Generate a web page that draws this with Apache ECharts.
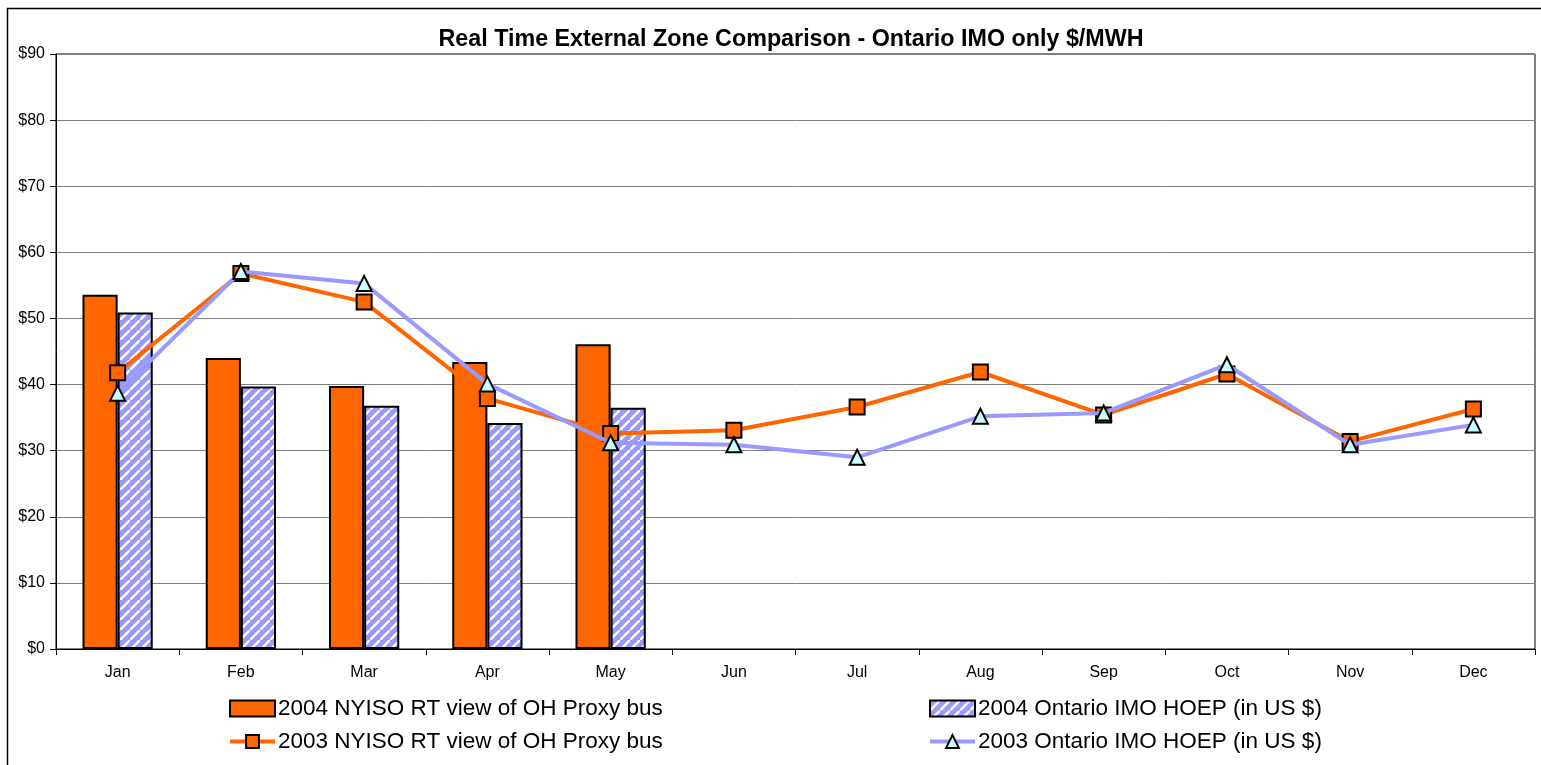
<!DOCTYPE html>
<html>
<head>
<meta charset="utf-8">
<script src="https://cdn.jsdelivr.net/npm/echarts@6/dist/echarts.min.js"></script>
<style>
html,body{margin:0;padding:0;background:#fff;}
#c{width:1541px;height:765px;}
</style>
</head>
<body>
<div id="c"></div>
<script>
var months = ['Jan','Feb','Mar','Apr','May','Jun','Jul','Aug','Sep','Oct','Nov','Dec'];
var nyiso2004 = [53.6, 44.0, 39.8, 43.4, 46.1, null, null, null, null, null, null, null];
var ontario2004 = [50.9, 39.7, 36.8, 34.2, 36.5, null, null, null, null, null, null, null];
var nyiso2003 = [41.8, 56.8, 52.5, 37.9, 32.6, 33.1, 36.6, 41.9, 35.4, 41.6, 31.4, 36.3];
var ontario2003 = [38.7, 57.1, 55.3, 40.1, 31.2, 30.9, 29.0, 35.2, 35.7, 43.0, 30.9, 33.9];
var names = ['2004 NYISO RT view of OH Proxy bus','2004 Ontario IMO HOEP (in US $)','2003 NYISO RT view of OH Proxy bus','2003 Ontario IMO HOEP (in US $)'];

function hatch(){
  var s = 10;
  var c = document.createElement('canvas');
  c.width = s; c.height = s;
  var g = c.getContext('2d');
  g.fillStyle = '#9999FF';
  g.fillRect(0,0,s,s);
  g.strokeStyle = '#FFFFFF';
  g.lineWidth = 2.4;
  g.beginPath();
  g.moveTo(-2,s+2); g.lineTo(s+2,-2);
  g.moveTo(-s-2,2); g.lineTo(2,-s-2);
  g.moveTo(s-2,2*s+2); g.lineTo(2*s+2,s-2);
  g.stroke();
  return {image: c, repeat: 'repeat'};
}
var pat = hatch();

var chart = echarts.init(document.getElementById('c'));
var font = 'Liberation Sans, Arial, sans-serif';
var legText = {fontFamily: font, fontSize: 22.5, color: '#000', padding: [0,0,0,-2]};
chart.setOption({
  animation: false,
  textStyle: {fontFamily: font},
  title: {
    text: 'Real Time External Zone Comparison - Ontario IMO only $/MWH',
    left: 786, top: 23, textAlign: 'center',
    textStyle: {fontFamily: font, fontSize: 23.3, fontWeight: 'bold', color: '#000'}
  },
  graphic: [{
    type: 'rect', left: 5, top: 6, z: -1,
    shape: {width: 1560, height: 800},
    style: {fill: 'none', stroke: '#000', lineWidth: 1.5}
  }],
  legend: [{
    data: [{name: names[0], icon: 'rect'}, {name: names[2], lineStyle: {width: 4}}],
    orient: 'vertical', left: 228, top: 697, itemGap: 10, padding: 0,
    itemWidth: 45, itemHeight: 16,
    textStyle: legText
  },{
    data: [{name: names[1], icon: 'rect'}, {name: names[3], lineStyle: {width: 4}}],
    orient: 'vertical', left: 928, top: 697, itemGap: 10, padding: 0,
    itemWidth: 45, itemHeight: 16,
    textStyle: legText
  }],
  grid: {left: 56, right: 6, top: 54, bottom: 116, show: true, borderColor: '#000', borderWidth: 1},
  xAxis: {
    type: 'category', data: months, boundaryGap: true,
    axisLine: {lineStyle: {color: '#000', width: 1}},
    axisTick: {show: true, length: 6, lineStyle: {color: '#000'}},
    axisLabel: {color: '#000', fontSize: 16, margin: 16, fontFamily: font}
  },
  yAxis: {
    type: 'value', min: 0, max: 90, interval: 10,
    axisLine: {show: true, lineStyle: {color: '#000', width: 1}},
    axisTick: {show: true, length: 6, lineStyle: {color: '#000'}},
    axisLabel: {color: '#000', fontSize: 16, margin: 11, fontFamily: font, formatter: function(v){return '$' + v;}},
    splitLine: {lineStyle: {color: '#808080', width: 1}}
  },
  series: [{
    name: names[0], type: 'bar', data: nyiso2004,
    barGap: '0%', barCategoryGap: '43%',
    itemStyle: {color: '#FF6600', borderColor: '#000', borderWidth: 2}
  },{
    name: names[1], type: 'bar', data: ontario2004,
    barGap: '0%', barCategoryGap: '43%',
    itemStyle: {color: pat, borderColor: '#000', borderWidth: 2}
  },{
    name: names[2], type: 'line', data: nyiso2003, z: 5,
    symbol: 'rect', symbolSize: 15,
    lineStyle: {color: '#FF6600', width: 4},
    itemStyle: {color: '#FF6600', borderColor: '#000', borderWidth: 2}
  },{
    name: names[3], type: 'line', data: ontario2003, z: 6,
    symbol: 'triangle', symbolSize: 15,
    lineStyle: {color: '#9999FF', width: 4},
    itemStyle: {color: '#CCFFFF', borderColor: '#000', borderWidth: 2}
  }]
});
</script>
</body>
</html>
